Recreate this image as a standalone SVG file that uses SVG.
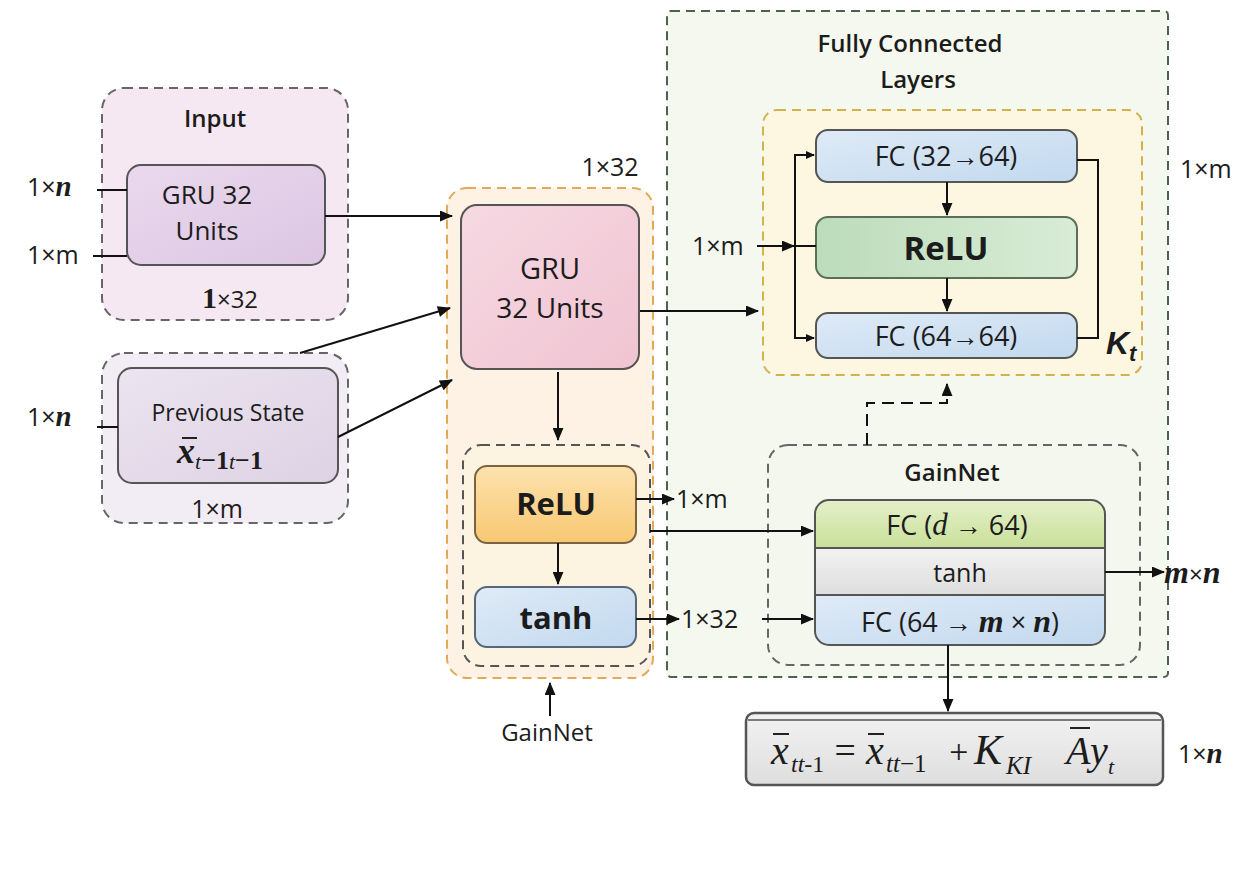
<svg xmlns="http://www.w3.org/2000/svg" width="1258" height="885" viewBox="0 0 1258 885">
<defs>
<marker id="ah" viewBox="0 0 12 10" refX="11" refY="5" markerWidth="14" markerHeight="11" markerUnits="userSpaceOnUse" orient="auto"><path d="M0,0 L12,5 L0,10 z" fill="#111"/></marker>
<linearGradient id="gLav" x1="0" y1="0" x2="1" y2="1"><stop offset="0" stop-color="#ead9ee"/><stop offset="1" stop-color="#dcc6e2"/></linearGradient>
<linearGradient id="gPrev" x1="0" y1="0" x2="1" y2="1"><stop offset="0" stop-color="#ece4f0"/><stop offset="1" stop-color="#ddd2e4"/></linearGradient>
<linearGradient id="gPink" x1="0" y1="0" x2="1" y2="1"><stop offset="0" stop-color="#f6d9e2"/><stop offset="1" stop-color="#f0c4d2"/></linearGradient>
<linearGradient id="gOrange" x1="0" y1="0" x2="0" y2="1"><stop offset="0" stop-color="#fde2ae"/><stop offset="1" stop-color="#f8c872"/></linearGradient>
<linearGradient id="gBlue" x1="0" y1="0" x2="1" y2="1"><stop offset="0" stop-color="#dfeaf6"/><stop offset="1" stop-color="#c2d9ef"/></linearGradient>
<linearGradient id="gGreen" x1="0" y1="0" x2="1" y2="0"><stop offset="0" stop-color="#bcdcba"/><stop offset="1" stop-color="#d9ecd6"/></linearGradient>
<linearGradient id="gLime" x1="0" y1="0" x2="0" y2="1"><stop offset="0" stop-color="#e4f0c8"/><stop offset="1" stop-color="#c9e09a"/></linearGradient>
<linearGradient id="gGray" x1="0" y1="0" x2="0" y2="1"><stop offset="0" stop-color="#f2f2f2"/><stop offset="1" stop-color="#dedede"/></linearGradient>
</defs>
<style>
.t{font-family:"Open Sans","Noto Sans","Liberation Sans",sans-serif;fill:#1c1c1c;font-weight:500}
.ttl{font-size:24px;font-weight:600}
.b{font-weight:bold}
.lbl{font-size:25px}
.m{font-family:"Liberation Serif","DejaVu Serif",serif;font-style:italic;font-weight:bold}
.eq{font-family:"Liberation Serif","DejaVu Serif",serif;font-style:italic;fill:#1c1c1c}
.grp{stroke-width:2;stroke-dasharray:9 6}
.box{stroke:#555;stroke-width:2}
.con{stroke:#111;stroke-width:2;fill:none}
.bar{stroke:#222;stroke-width:2}
</style>
<rect width="1258" height="885" fill="#fff"/>

<g id="fc-group">
<rect x="667" y="11" width="501" height="666" rx="4" fill="#f5f8ee" stroke="#4a6350" class="grp"/>
<text class="t ttl" x="910" y="52" text-anchor="middle">Fully Connected</text>
<text class="t ttl" x="918" y="88" text-anchor="middle">Layers</text>
<text class="t lbl" x="1180" y="178">1×m</text>
</g>

<g id="input-group">
<rect x="102" y="88" width="246" height="232" rx="22" fill="#f6e8f2" stroke="#666" class="grp"/>
<text class="t ttl" x="215" y="127" text-anchor="middle" font-size="25">Input</text>
<text class="t" x="230" y="308" text-anchor="middle" font-size="24"><tspan font-family="Liberation Serif,serif" font-weight="bold" font-size="30">1</tspan>×32</text>
</g>
<g id="input-gru">
<rect x="127" y="165" width="198" height="100" rx="14" fill="url(#gLav)" class="box"/>
<text class="t" x="207" y="204" text-anchor="middle" font-size="26">GRU 32</text>
<text class="t" x="207" y="240" text-anchor="middle" font-size="26">Units</text>
</g>
<g id="input-labels">
<text class="t lbl" x="27" y="196">1×<tspan class="m" font-size="29">n</tspan></text>
<text class="t lbl" x="27" y="264">1×m</text>
</g>

<g id="prev-group">
<rect x="102" y="353" width="246" height="170" rx="22" fill="#f2edf4" stroke="#666" class="grp"/>
<text class="t lbl" x="217" y="518" text-anchor="middle">1×m</text>
</g>
<g id="prev-state">
<rect x="118" y="368" width="220" height="115" rx="14" fill="url(#gPrev)" class="box"/>
<text class="t" x="228" y="421" text-anchor="middle" font-size="23">Previous State</text>
<text x="177" y="463" font-family="Liberation Serif,serif" font-size="36" font-style="italic" font-weight="bold" fill="#1c1c1c">x<tspan font-size="22" dy="6" font-weight="normal">t</tspan><tspan font-size="26" font-style="normal">−1</tspan><tspan font-size="22" font-weight="normal">t</tspan><tspan font-size="26" font-style="normal">−1</tspan></text>
<line x1="182" y1="438" x2="197" y2="438" class="bar"/>
</g>
<g id="prev-label">
<text class="t lbl" x="27" y="426">1×<tspan class="m" font-size="29">n</tspan></text>
</g>

<g id="core-group">
<rect x="447" y="188" width="206" height="490" rx="20" fill="#fdf2e4" stroke="#e3a95a" class="grp"/>
<text class="t" x="610" y="176" text-anchor="middle" font-size="25">1×32</text>
<rect x="463" y="445" width="187" height="221" rx="18" fill="#fcf3e1" stroke="#555" class="grp"/>
</g>
<g id="core-gru">
<rect x="461" y="205" width="178" height="164" rx="16" fill="url(#gPink)" class="box"/>
<text class="t" x="550" y="279" text-anchor="middle" font-size="29">GRU</text>
<text class="t" x="550" y="318" text-anchor="middle" font-size="28">32 Units</text>
</g>
<g id="core-relu">
<rect x="475" y="466" width="161" height="77" rx="12" fill="url(#gOrange)" stroke="#7a6440" stroke-width="2"/>
<text class="t b" x="556" y="515" text-anchor="middle" font-size="31">ReLU</text>
</g>
<g id="core-tanh">
<rect x="475" y="587" width="161" height="60" rx="12" fill="url(#gBlue)" stroke="#55677a" stroke-width="2"/>
<text class="t b" x="556" y="629" text-anchor="middle" font-size="31">tanh</text>
</g>
<g id="gainnet-label">
<text class="t" x="547" y="741" text-anchor="middle" font-size="24">GainNet</text>
</g>

<g id="kt-group">
<rect x="763" y="110" width="379" height="265" rx="14" fill="#fdf6e1" stroke="#d2b24e" class="grp"/>
<text x="1106" y="354" font-family="Liberation Sans,sans-serif" font-size="32" font-style="italic" font-weight="bold" fill="#1c1c1c">K<tspan font-size="22" dy="7">t</tspan></text>
</g>
<g id="fc1">
<rect x="816" y="130" width="261" height="52" rx="12" fill="url(#gBlue)" class="box"/>
<text class="t" x="946" y="166" text-anchor="middle" font-size="27">FC (32→64)</text>
</g>
<g id="fc-relu">
<rect x="816" y="217" width="261" height="61" rx="12" fill="url(#gGreen)" stroke="#5b6e5b" stroke-width="2"/>
<text class="t b" x="946" y="260" text-anchor="middle" font-size="33">ReLU</text>
</g>
<g id="fc2">
<rect x="816" y="313" width="261" height="45" rx="12" fill="url(#gBlue)" class="box"/>
<text class="t" x="946" y="346" text-anchor="middle" font-size="27">FC (64→64)</text>
</g>
<g id="fc-in-label">
<text class="t lbl" x="692" y="255">1×m</text>
</g>

<g id="gainnet-group">
<rect x="768" y="445" width="372" height="220" rx="20" fill="#f4f7ee" stroke="#666" class="grp"/>
<text class="t ttl" x="952" y="481" text-anchor="middle" font-size="25">GainNet</text>
</g>
<g id="gainnet">
<path d="M815,548 V514 Q815,500 829,500 H1091 Q1105,500 1105,514 V548 Z" fill="url(#gLime)"/>
<rect x="815" y="548" width="290" height="47" fill="url(#gGray)"/>
<path d="M815,595 V631 Q815,645 829,645 H1091 Q1105,645 1105,631 V595 Z" fill="url(#gBlue)"/>
<rect x="815" y="500" width="290" height="145" rx="14" fill="none" class="box"/>
<line x1="815" y1="548" x2="1105" y2="548" stroke="#555" stroke-width="2"/>
<line x1="815" y1="595" x2="1105" y2="595" stroke="#555" stroke-width="2"/>
<text class="t" x="957" y="535" text-anchor="middle" font-size="27">FC (<tspan font-family="Liberation Serif,serif" font-style="italic" font-size="31">d</tspan> → 64)</text>
<text class="t" x="960" y="582" text-anchor="middle" font-size="25">tanh</text>
<text class="t" x="960" y="632" text-anchor="middle" font-size="27">FC (64 → <tspan class="m" font-size="32">m</tspan> × <tspan class="m" font-size="32">n</tspan>)</text>
</g>
<g id="gainnet-labels">
<text class="t lbl" x="676" y="508">1×m</text>
<text class="t lbl" x="681" y="628">1×32</text>
<text class="t" x="1164" y="583" font-size="24"><tspan class="m" font-size="32">m</tspan>×<tspan class="m" font-size="32">n</tspan></text>
</g>

<g id="update">
<rect x="746" y="713" width="417" height="72" rx="8" fill="url(#gGray)" stroke="#555" stroke-width="2.5"/>
<line x1="748" y1="720" x2="1161" y2="720" stroke="#555" stroke-width="1.5"/>
<text class="eq" x="771" y="764" font-size="40">x</text>
<text class="eq" x="791" y="772" font-size="24">tt<tspan font-style="normal">-1</tspan></text>
<text class="eq" x="832" y="763" font-size="38" font-style="normal">=</text>
<text class="eq" x="866" y="764" font-size="40">x</text>
<text class="eq" x="886" y="772" font-size="25">tt<tspan font-style="normal">−1</tspan></text>
<text class="eq" x="947" y="763" font-size="34" font-style="normal">+</text>
<text class="eq" x="974" y="764" font-size="42">K</text>
<text class="eq" x="1006" y="774" font-size="25">KI</text>
<text class="eq" x="1066" y="764" font-size="40">A</text>
<text class="eq" x="1090" y="764" font-size="40">y</text>
<text class="eq" x="1108" y="774" font-size="22">t</text>
<line x1="773" y1="734" x2="789" y2="734" class="bar"/>
<line x1="868" y1="734" x2="884" y2="734" class="bar"/>
<line x1="1070" y1="728" x2="1090" y2="728" class="bar"/>
<text class="t" x="1178" y="763" font-size="25">1×<tspan class="m" font-size="29">n</tspan></text>
</g>

<g id="connectors">
<line class="con" x1="97" y1="190" x2="127" y2="190"/>
<line class="con" x1="93" y1="256" x2="127" y2="256"/>
<line class="con" x1="97" y1="427" x2="118" y2="427"/>
<line class="con" x1="325" y1="216" x2="452" y2="216" marker-end="url(#ah)"/>
<line class="con" x1="300" y1="353" x2="450" y2="308" marker-end="url(#ah)"/>
<line class="con" x1="338" y1="437" x2="452" y2="380" marker-end="url(#ah)"/>
<line class="con" x1="558" y1="372" x2="558" y2="440" marker-end="url(#ah)"/>
<line class="con" x1="558" y1="543" x2="558" y2="584" marker-end="url(#ah)"/>
<line class="con" x1="550" y1="716" x2="550" y2="683" marker-end="url(#ah)"/>
<line class="con" x1="636" y1="499" x2="674" y2="499" marker-end="url(#ah)"/>
<line class="con" x1="650" y1="531" x2="813" y2="531" marker-end="url(#ah)"/>
<line class="con" x1="636" y1="619" x2="679" y2="619" marker-end="url(#ah)"/>
<line class="con" x1="762" y1="619" x2="813" y2="619" marker-end="url(#ah)"/>
<line class="con" x1="640" y1="311" x2="758" y2="311" marker-end="url(#ah)"/>
<line class="con" x1="947" y1="182" x2="947" y2="215" marker-end="url(#ah)"/>
<line class="con" x1="947" y1="278" x2="947" y2="311" marker-end="url(#ah)"/>
<path class="con" d="M814,155 H795 V338 H814"/>
<path d="M806,151 L815,155 L806,159 z M806,334 L815,338 L806,342 z" fill="#111"/>
<line class="con" x1="795" y1="246" x2="816" y2="246"/>
<line class="con" x1="757" y1="246" x2="794" y2="246" marker-end="url(#ah)"/>
<path class="con" d="M1077,160 H1098 V338 H1077"/>
<path class="con" d="M867,445 V403 H947 V384" stroke-dasharray="12 7" marker-end="url(#ah)"/>
<line class="con" x1="1105" y1="572" x2="1164" y2="572" marker-end="url(#ah)"/>
<line class="con" x1="948" y1="645" x2="948" y2="711" marker-end="url(#ah)"/>
</g>
</svg>
